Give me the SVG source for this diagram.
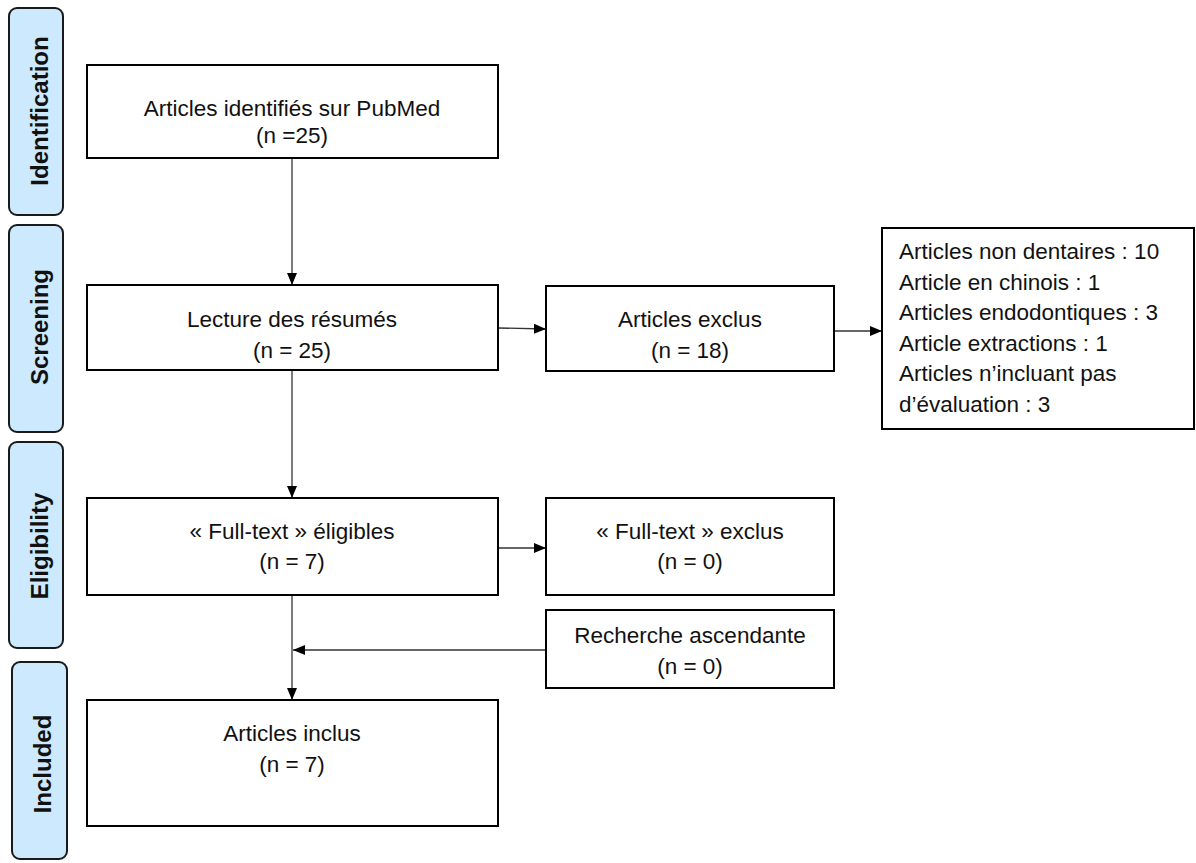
<svg xmlns="http://www.w3.org/2000/svg" width="1196" height="863" viewBox="0 0 1196 863">
<defs>
<style>
.bar{fill:#cde9fd;stroke:#1a1a1a;stroke-width:2}
.bartxt{font-family:"Liberation Sans",Arial,sans-serif;font-weight:bold;font-size:24px;fill:#111;text-anchor:middle}
.box{fill:#fff;stroke:#000;stroke-width:2}
.txt{font-family:"Liberation Sans",Arial,sans-serif;font-size:22.5px;fill:#111;text-anchor:middle}
.ltxt{font-family:"Liberation Sans",Arial,sans-serif;font-size:22.5px;fill:#111}
.conn{stroke:#333;stroke-width:1.3;fill:none;marker-end:url(#arr)}
</style>
<marker id="arr" viewBox="0 0 12 10" refX="12" refY="5" markerWidth="12" markerHeight="10" markerUnits="userSpaceOnUse" orient="auto">
<path d="M0,0 L12,5 L0,10 Z" fill="#000"/>
</marker>
</defs>
<rect width="1196" height="863" fill="#fff"/>

<g id="phase-identification">
<rect class="bar" x="9" y="8" width="54" height="207" rx="8"/>
<text class="bartxt" transform="translate(48,111) rotate(-90)">Identification</text>
</g>
<g id="phase-screening">
<rect class="bar" x="9" y="225" width="54" height="207" rx="8"/>
<text class="bartxt" transform="translate(48,327) rotate(-90)">Screening</text>
</g>
<g id="phase-eligibility">
<rect class="bar" x="9" y="442" width="54" height="206" rx="8"/>
<text class="bartxt" transform="translate(48,546) rotate(-90)">Eligibility</text>
</g>
<g id="phase-included">
<rect class="bar" x="12" y="662" width="55" height="197" rx="8"/>
<text class="bartxt" transform="translate(51,764) rotate(-90)">Included</text>
</g>

<g id="connectors">
<line class="conn" x1="292" y1="158" x2="292" y2="285"/>
<line class="conn" x1="498" y1="328" x2="546" y2="329"/>
<line class="conn" x1="834" y1="331" x2="882" y2="331"/>
<line class="conn" x1="292" y1="370" x2="292" y2="498"/>
<line class="conn" x1="498" y1="548" x2="546" y2="548"/>
<line class="conn" x1="292" y1="595" x2="292" y2="700"/>
<line class="conn" x1="546" y1="650" x2="293" y2="650"/>
</g>

<g id="node-pubmed">
<rect class="box" x="87" y="65" width="411" height="93"/>
<text class="txt" x="292" y="116">Articles identifiés sur PubMed</text>
<text class="txt" x="292" y="143">(n =25)</text>
</g>
<g id="node-lecture">
<rect class="box" x="87" y="285" width="411" height="85"/>
<text class="txt" x="292" y="327">Lecture des résumés</text>
<text class="txt" x="292" y="358">(n = 25)</text>
</g>
<g id="node-exclus">
<rect class="box" x="546" y="286" width="288" height="85"/>
<text class="txt" x="690" y="327">Articles exclus</text>
<text class="txt" x="690" y="358">(n = 18)</text>
</g>
<g id="node-reasons">
<rect class="box" x="882" y="228" width="312" height="201"/>
<text class="ltxt" x="899" y="259">Articles non dentaires : 10</text>
<text class="ltxt" x="899" y="289.5">Article en chinois : 1</text>
<text class="ltxt" x="899" y="320">Articles endodontiques : 3</text>
<text class="ltxt" x="899" y="350.5">Article extractions : 1</text>
<text class="ltxt" x="899" y="381">Articles n’incluant pas</text>
<text class="ltxt" x="899" y="411.5">d’évaluation : 3</text>
</g>
<g id="node-fulltext">
<rect class="box" x="87" y="498" width="411" height="97"/>
<text class="txt" x="292" y="539">« Full-text » éligibles</text>
<text class="txt" x="292" y="569">(n = 7)</text>
</g>
<g id="node-fulltext-exclus">
<rect class="box" x="546" y="498" width="288" height="97"/>
<text class="txt" x="690" y="539">« Full-text » exclus</text>
<text class="txt" x="690" y="569">(n = 0)</text>
</g>
<g id="node-recherche">
<rect class="box" x="546" y="610" width="288" height="78"/>
<text class="txt" x="690" y="643">Recherche ascendante</text>
<text class="txt" x="690" y="674">(n = 0)</text>
</g>
<g id="node-inclus">
<rect class="box" x="87" y="700" width="411" height="126"/>
<text class="txt" x="292" y="741">Articles inclus</text>
<text class="txt" x="292" y="772">(n = 7)</text>
</g>
</svg>
